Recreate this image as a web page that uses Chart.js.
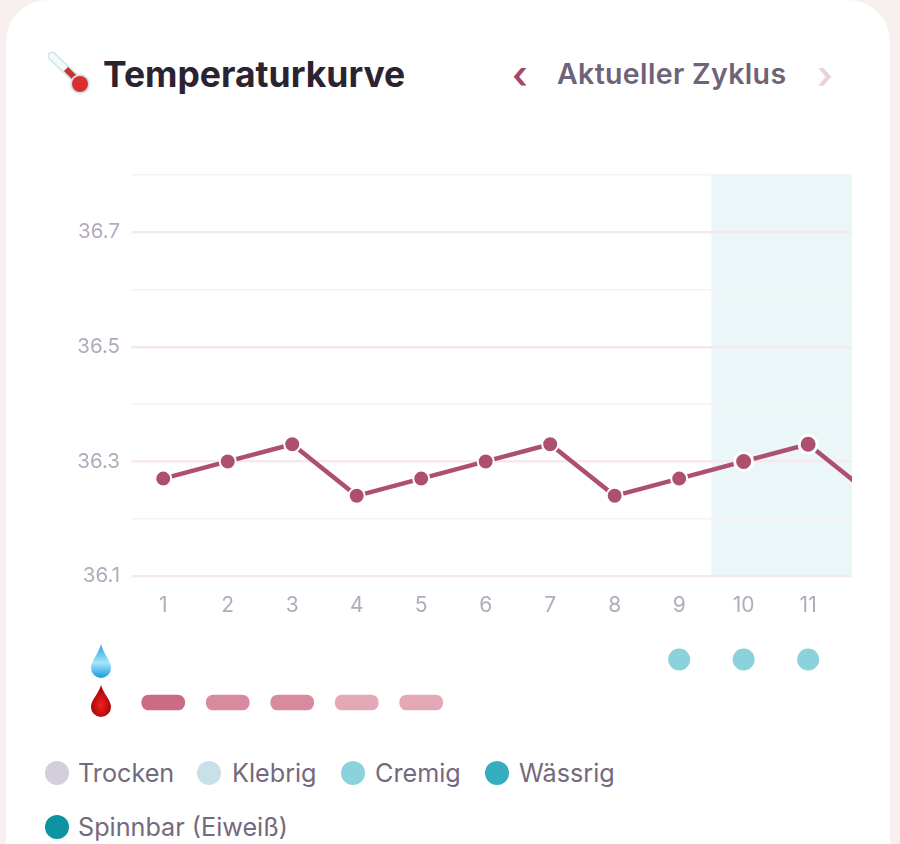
<!DOCTYPE html>
<html lang="de">
<head>
<meta charset="utf-8">
<title>Temperaturkurve</title>
<script src="https://cdn.jsdelivr.net/npm/chart.js@4"></script>
<style>
  html, body { margin: 0; padding: 0; }
  body { width: 900px; height: 844px; overflow: hidden; position: relative; background: #f8efef; font-family: Inter, "Noto Sans", sans-serif; }
  #card { position: absolute; left: 6px; top: 0; width: 884px; height: 900px; background: #fff; border-radius: 42px 42px 0 0; }
  canvas { position: absolute; }
  #tempChart { left: 0; top: 130px; }
  #rowChart { left: 131px; top: 638px; }
  .abs { position: absolute; white-space: nowrap; }
  #title { left: 103px; top: 53px; font-size: 35.5px; line-height: 44px; font-weight: 700; color: #2c2330; }
  #cycle { left: 557px; top: 56px; font-size: 28.5px; line-height: 36px; font-weight: 600; letter-spacing: 0.35px; color: #6f6377; }
  .chev { font-size: 38px; line-height: 48px; font-weight: 600; top: 50px; }
  #prev { left: 512px; color: #a8456a; }
  #next { left: 817px; color: #e9d3da; }
  .dot { position: absolute; width: 24px; height: 24px; border-radius: 50%; }
  .lbl { position: absolute; font-size: 25.2px; line-height: 32px; color: #75697d; white-space: nowrap; }
</style>
</head>
<body>
<div id="card"></div>

<svg class="abs" style="left:46px;top:51px" width="46" height="44" viewBox="0 0 46 44">
  <line x1="6" y1="5" x2="31" y2="29" stroke="#cfe3ea" stroke-width="9" stroke-linecap="round"/>
  <line x1="6" y1="5" x2="31" y2="29" stroke="#f4fafc" stroke-width="6" stroke-linecap="round"/>
  <line x1="20" y1="18" x2="33" y2="31" stroke="#c9322f" stroke-width="6"/>
  <circle cx="34" cy="33" r="10" fill="#d3e0e4"/>
  <circle cx="34" cy="33" r="8" fill="#d8302f"/>
</svg>
<div id="title" class="abs">Temperaturkurve</div>
<div id="prev" class="abs chev">‹</div>
<div id="cycle" class="abs">Aktueller Zyklus</div>
<div id="next" class="abs chev">›</div>

<canvas id="tempChart" width="900" height="500"></canvas>
<canvas id="rowChart" width="721" height="86"></canvas>

<svg class="abs" style="left:89px;top:643px" width="24" height="36" viewBox="0 0 24 36">
  <defs><linearGradient id="w" x1="0" y1="1" x2="0" y2="0"><stop offset="0" stop-color="#149be0"/><stop offset=".45" stop-color="#a9e6fb"/><stop offset="1" stop-color="#1f9fe0"/></linearGradient></defs>
  <path d="M12 1 C14 10 22 18 22 25 A10 10 0 0 1 2 25 C2 18 10 10 12 1 Z" fill="url(#w)"/>
</svg>
<svg class="abs" style="left:89px;top:684px" width="24" height="34" viewBox="0 0 24 34">
  <defs><radialGradient id="b" cx=".5" cy=".62" r=".55"><stop offset="0" stop-color="#f5201f"/><stop offset="1" stop-color="#9c0508"/></radialGradient></defs>
  <path d="M12 1 C14 9 22 16 22 23 A10 10 0 0 1 2 23 C2 16 10 9 12 1 Z" fill="url(#b)"/>
</svg>

<div id="legend"></div>

<script>
const days = [1, 2, 3, 4, 5, 6, 7, 8, 9, 10, 11, 12];
const dayLabels = [1, 2, 3, 4, 5, 6, 7, 8, 9, 10, 11];
const temps = [36.27, 36.30, 36.33, 36.24, 36.27, 36.30, 36.33, 36.24, 36.27, 36.30, 36.33, 36.24];
const yTicks = [36.1, 36.2, 36.3, 36.4, 36.5, 36.6, 36.7, 36.8];
const yLabels = ["36.1", "36.3", "36.5", "36.7"];
const fertileStart = 9.5;
const fertileDays = [10, 11];

const bleedingDays = [1, 2, 3, 4, 5];
const bleedingColors = ["#cb6c84", "#d98a9e", "#d98a9e", "#e3a7b6", "#e3a7b6"];
const mucusDays = [9, 10, 11];

const legendNames = ["Trocken", "Klebrig", "Cremig", "Wässrig", "Spinnbar (Eiweiß)"];
const legendColors = ["#d3ced9", "#c9e0e9", "#8bd2dd", "#35adbf", "#0d93a1"];
const legendDotX = [45, 197, 341, 485, 45];
const legendTextX = [78, 232, 375, 519, 78];
const legendRowY = [761, 761, 761, 761, 815];

const xMin = 0.5;
const xMax = 11.68;

// Build the legend under the chart
const legend = document.getElementById("legend");
legendNames.forEach((name, i) => {
  const dot = document.createElement("div");
  dot.className = "dot";
  dot.style.left = legendDotX[i] + "px";
  dot.style.top = legendRowY[i] + "px";
  dot.style.background = legendColors[i];
  legend.appendChild(dot);
  const lbl = document.createElement("div");
  lbl.className = "lbl";
  lbl.style.left = legendTextX[i] + "px";
  lbl.style.top = legendRowY[i] - 4 + "px";
  lbl.textContent = name;
  legend.appendChild(lbl);
});

// Fertile window behind the grid lines
const fertileBand = {
  id: "fertileBand",
  beforeDraw(chart) {
    const { ctx, chartArea, scales } = chart;
    const left = scales.x.getPixelForValue(fertileStart);
    ctx.save();
    ctx.fillStyle = "#ebf6f9";
    ctx.fillRect(left, chartArea.top, chartArea.right - left, chartArea.bottom - chartArea.top);
    ctx.restore();
  }
};

new Chart(document.getElementById("tempChart").getContext("2d"), {
  type: "line",
  plugins: [fertileBand],
  data: {
    datasets: [{
      data: days.map((d, i) => ({ x: d, y: temps[i] })),
      borderColor: "#ad5070",
      borderWidth: 4.5,
      tension: 0,
      pointBackgroundColor: "#ad5070",
      pointBorderColor: "#ffffff",
      pointRadius: (c) => (fertileDays.includes(c.raw && c.raw.x) ? 9 : 8),
      pointBorderWidth: (c) => (fertileDays.includes(c.raw && c.raw.x) ? 3 : 2)
    }]
  },
  options: {
    responsive: false,
    animation: false,
    layout: { padding: { top: 45, right: 48, left: 0, bottom: 0 } },
    plugins: { legend: { display: false }, tooltip: { enabled: false } },
    scales: {
      x: {
        type: "linear",
        min: xMin,
        max: xMax,
        afterBuildTicks: (scale) => { scale.ticks = dayLabels.map((v) => ({ value: v })); },
        afterFit: (scale) => { scale.height = 54; },
        grid: { display: false },
        border: { display: false },
        ticks: { color: "#b3abbc", font: { family: "Inter", size: 21 }, padding: 9, maxRotation: 0, callback: (v) => String(v) }
      },
      y: {
        min: 36.1,
        max: 36.8,
        afterBuildTicks: (scale) => { scale.ticks = yTicks.map((v) => ({ value: v })); },
        afterFit: (scale) => { scale.width = 131; },
        border: { display: false },
        grid: {
          drawTicks: false,
          color: (c) => (yLabels.includes(c.tick.value.toFixed(1)) ? "#f6e9ee" : "#f9f1f3"),
          lineWidth: (c) => (yLabels.includes(c.tick.value.toFixed(1)) ? 2.5 : 1.5)
        },
        ticks: {
          color: "#b3abbc",
          font: { family: "Inter", size: 20.5 },
          padding: 11,
          callback: (v) => { const s = Number(v).toFixed(1); return yLabels.includes(s) ? s : ""; }
        }
      }
    }
  }
});

// Rows under the chart share the same day axis
new Chart(document.getElementById("rowChart").getContext("2d"), {
  type: "bar",
  data: {
    labels: ["Zervix", "Blutung"],
    datasets: [
      {
        type: "scatter",
        data: mucusDays.map((d) => ({ x: d, y: "Zervix" })),
        backgroundColor: "#8bd2dd",
        pointBackgroundColor: "#8bd2dd",
        pointRadius: 11,
        pointBorderWidth: 0,
        clip: false
      },
      {
        data: bleedingDays.map((d) => ({ x: [d - 0.335, d + 0.335], y: "Blutung" })),
        backgroundColor: bleedingColors,
        borderRadius: 8,
        borderSkipped: false,
        barThickness: 15
      }
    ]
  },
  options: {
    indexAxis: "y",
    responsive: false,
    animation: false,
    layout: { autoPadding: false, padding: 0 },
    plugins: { legend: { display: false }, tooltip: { enabled: false } },
    scales: {
      x: { type: "linear", min: xMin, max: xMax, display: false },
      y: { type: "category", display: false, offset: true }
    }
  }
});
</script>
</body>
</html>
